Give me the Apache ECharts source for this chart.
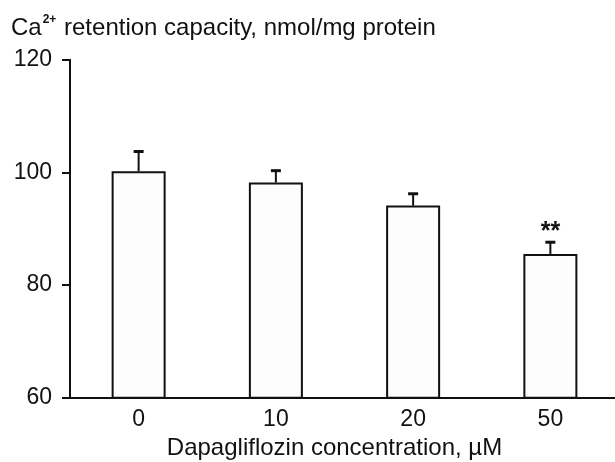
<!DOCTYPE html>
<html>
<head>
<meta charset="utf-8">
<script src="https://cdn.jsdelivr.net/npm/echarts@6/dist/echarts.min.js"></script>
<style>html,body{margin:0;padding:0;background:#fff;}#c{width:615px;height:462px;}</style>
</head>
<body>
<div id="c"></div>
<script>
var categories = ['0', '10', '20', '50'];
var means = [100.2, 98.2, 94.1, 85.5];
var errors = [3.5, 2.1, 2.1, 2.1];
var marks = ['', '', '', '**'];
var yTicks = [60, 80, 100, 120];

var chart = echarts.init(document.getElementById('c'), null, {renderer: 'canvas'});
var FONT = 'Liberation Sans, Arial, sans-serif';

var errData = categories.map(function (c, i) { return [i, means[i], means[i] + errors[i], marks[i]]; });

chart.setOption({
  animation: false,
  backgroundColor: '#fff',
  title: {
    text: '{a|Ca}{s|2+}{a| retention capacity, nmol/mg protein}',
    left: 11, top: 14,
    padding: 0,
    textStyle: {
      rich: {
        a: {fontFamily: FONT, fontSize: 24, fontWeight: 'normal', color: '#111', lineHeight: 28},
        s: {fontFamily: FONT, fontSize: 12, fontWeight: 'bold', color: '#111', verticalAlign: 'top', lineHeight: 12, padding: [0, 1, 0, 1]}
      }
    }
  },
  grid: {left: 70, top: 59.7, width: 549, bottom: 64.3, containLabel: false, outerBoundsMode: 'none'},
  xAxis: {
    type: 'category',
    data: categories,
    axisLine: {lineStyle: {color: '#111', width: 2}},
    axisTick: {show: false},
    axisLabel: {fontFamily: FONT, fontSize: 23, color: '#111', margin: 10},
    name: 'Dapagliflozin concentration, \u00b5M',
    nameLocation: 'middle',
    nameGap: 39,
    nameTextStyle: {fontFamily: FONT, fontSize: 24, color: '#111', padding: [0, 20, 0, 0]}
  },
  yAxis: {
    type: 'value',
    min: 60, max: 120, interval: 20,
    axisLine: {show: true, lineStyle: {color: '#111', width: 2}},
    axisTick: {show: true, length: 8, lineStyle: {color: '#111', width: 2}},
    splitLine: {show: false},
    axisLabel: {fontFamily: FONT, fontSize: 23, color: '#111', margin: 18}
  },
  series: [
    {
      type: 'bar',
      data: means,
      barWidth: 54,
      itemStyle: {color: '#fdfdfd', borderColor: '#111', borderWidth: 2},
      z: 2
    },
    {
      type: 'custom',
      data: errData,
      z: 3,
      renderItem: function (params, api) {
        var x = api.value(0);
        var top = api.coord([x, api.value(2)]);
        var base = api.coord([x, api.value(1)]);
        var children = [
          {type: 'line', shape: {x1: top[0], y1: base[1], x2: top[0], y2: top[1]}, style: {stroke: '#111', lineWidth: 2}},
          {type: 'line', shape: {x1: top[0] - 5, y1: top[1], x2: top[0] + 5, y2: top[1]}, style: {stroke: '#111', lineWidth: 3}}
        ];
        var m = api.value(3);
        if (m) {
          children.push({type: 'text', style: {text: m, x: top[0], y: top[1] - 10, textAlign: 'center', textVerticalAlign: 'middle', fontFamily: FONT, fontSize: 25, fontWeight: 'bold', fill: '#111'}});
        }
        return {type: 'group', children: children};
      }
    }
  ]
});
</script>
</body>
</html>
